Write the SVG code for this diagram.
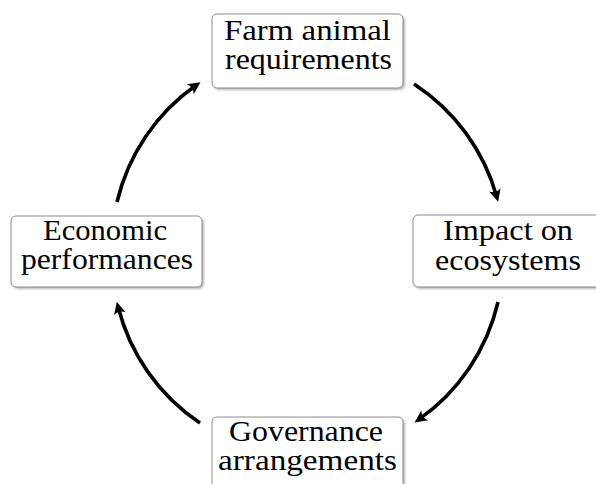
<svg xmlns="http://www.w3.org/2000/svg" width="596" height="484" viewBox="0 0 596 484">
<style>
.box{fill:#ffffff;stroke:#8a8a8a;stroke-width:1}
.shadow{fill:#9a9a9a;opacity:0.7}
.lbl{font-family:"Liberation Serif","Times New Roman",serif;font-size:28.5px;fill:#000;text-anchor:middle}
.arc{fill:none;stroke:#000;stroke-width:3.6;marker-end:url(#head)}
</style>
<defs>
<filter id="blur" x="-10%" y="-10%" width="120%" height="130%"><feGaussianBlur stdDeviation="0.8"/></filter>
<marker id="head" markerUnits="userSpaceOnUse" markerWidth="20" markerHeight="20" viewBox="-10 -10 20 20" refX="0" refY="0" orient="auto" overflow="visible">
<path d="M5,0 L-7.5,-6 Q-3.5,0 -7.5,6 Z" fill="#000"/>
</marker>
</defs>
<rect width="596" height="484" fill="#fff"/>
<g id="connectors">
<path class="arc" d="M414,84 A198,198 0 0 1 496.8,197"/>
<path class="arc" d="M498,302 A198,198 0 0 1 418.6,419.6"/>
<path class="arc" d="M200,423 A198,198 0 0 1 118,306.5"/>
<path class="arc" d="M117,202 A198,198 0 0 1 196.4,85"/>
</g>
<g id="node-farm">
<rect class="shadow" x="214" y="16" width="191" height="74" rx="5" filter="url(#blur)"/>
<rect class="box" x="212" y="14" width="191" height="74" rx="5"/>
<text class="lbl" x="307.5" y="39.5" textLength="167" lengthAdjust="spacingAndGlyphs">Farm animal</text>
<text class="lbl" x="308.5" y="69" textLength="167" lengthAdjust="spacingAndGlyphs">requirements</text>
</g>
<g id="node-impact">
<rect class="shadow" x="415" y="217" width="191" height="72" rx="5" filter="url(#blur)"/>
<rect class="box" x="413" y="215" width="191" height="72" rx="5"/>
<text class="lbl" x="508" y="240" textLength="130" lengthAdjust="spacingAndGlyphs">Impact on</text>
<text class="lbl" x="508" y="270" textLength="146" lengthAdjust="spacingAndGlyphs">ecosystems</text>
</g>
<g id="node-governance">
<rect class="shadow" x="214" y="419" width="191" height="74" rx="5" filter="url(#blur)"/>
<rect class="box" x="212" y="417" width="191" height="74" rx="5"/>
<text class="lbl" x="306" y="441" textLength="154" lengthAdjust="spacingAndGlyphs">Governance</text>
<text class="lbl" x="307.5" y="470" textLength="179" lengthAdjust="spacingAndGlyphs">arrangements</text>
</g>
<g id="node-economic">
<rect class="shadow" x="13" y="218" width="191" height="71" rx="5" filter="url(#blur)"/>
<rect class="box" x="11" y="216" width="191" height="71" rx="5"/>
<text class="lbl" x="105" y="240" textLength="124" lengthAdjust="spacingAndGlyphs">Economic</text>
<text class="lbl" x="107" y="269" textLength="172" lengthAdjust="spacingAndGlyphs">performances</text>
</g>
</svg>
